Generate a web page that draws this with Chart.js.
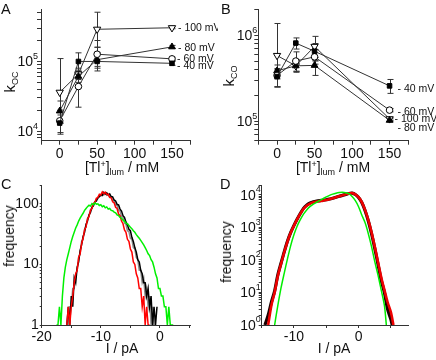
<!DOCTYPE html>
<html>
<head>
<meta charset="utf-8">
<script src="https://cdn.jsdelivr.net/npm/chart.js@4.4.1/dist/chart.umd.min.js"></script>
<style>
  html, body { margin: 0; padding: 0; background: #fff; }
  #fig { position: relative; width: 436px; height: 360px; overflow: hidden;
         font-family: "Liberation Sans", Arial, sans-serif; color: #111; }
  #fig canvas { position: absolute; }
  .t { position: absolute; white-space: nowrap; font-size: 14px; line-height: 1; }
  .t sub, .t sup { font-size: 9px; vertical-align: 0; position: relative; }
  .t sup { top: -0.55em; }
  .t sub { top: 0.35em; }
  .c { transform: translate(-50%, -50%); }
  .r { transform: translate(-50%, -50%) rotate(-90deg); }
  .lt { position: absolute; font-size: 14.5px; line-height: 1; }
</style>
</head>
<body>
<div id="fig">
  <canvas id="cA" width="218" height="160" style="left:0;top:0"></canvas>
  <canvas id="cB" width="218" height="160" style="left:218px;top:0"></canvas>
  <canvas id="cC" width="218" height="170" style="left:0;top:175px"></canvas>
  <canvas id="cD" width="218" height="170" style="left:218px;top:175px"></canvas>

  <div class="lt" style="left:1px;top:2px">A</div>
  <div class="lt" style="left:221px;top:2px">B</div>
  <div class="lt" style="left:1px;top:177px">C</div>
  <div class="lt" style="left:220px;top:177px">D</div>

  <div class="t r" style="left:9px;top:82px;font-size:15px">k<sub>OC</sub></div>
  <div class="t r" style="left:228px;top:76px;font-size:15px">k<sub>CO</sub></div>
  <div class="t c" style="left:122px;top:167px">[Tl<sup>+</sup>]<sub>lum</sub> / mM</div>
  <div class="t c" style="left:333px;top:167px">[Tl<sup>+</sup>]<sub>lum</sub> / mM</div>
  <div class="t r" style="left:9px;top:236px">frequency</div>
  <div class="t r" style="left:226px;top:252px">frequency</div>
  <div class="t c" style="left:122px;top:348px">I / pA</div>
  <div class="t c" style="left:334px;top:348px">I / pA</div>
</div>

<script>
// ---- data: panels A and B (rate constants vs luminal Tl+) ----
const tlConc = [0, 25, 50, 150];

const aMinus40  = [13000, 100000, 100000, 94000];
const aMinus60  = [14000, 43600, 127000, 109000];
const aMinus80  = [19400, 61000, 106000, 162000];
const aMinus100 = [36000, 66000, 290000, 305000];
const aLo40  = [9000, 72000, 73000, 88000],   aHi40  = [17000, 133000, 135000, 100000];
const aLo60  = [9500, 22000, 80000, 103000],  aHi60  = [20000, 65000, 200000, 115000];
const aLo80  = [13000, 50000, 85000, 155000], aHi80  = [27000, 75000, 160000, 170000];
const aLo100 = [13000, 55000, 160000, 295000], aHi100 = [110000, 80000, 510000, 315000];

const bMinus40  = [330000, 810000, 650000, 257000];
const bMinus60  = [340000, 500000, 560000, 134000];
const bMinus80  = [385000, 440000, 445000, 102000];
const bMinus100 = [580000, 440000, 740000, 106000];
const bLo40  = [250000, 690000, 500000, 210000], bHi40  = [400000, 930000, 800000, 305000];
const bLo60  = [250000, 380000, 460000, 128000], bHi60  = [410000, 640000, 680000, 140000];
const bLo80  = [310000, 380000, 340000, 98000],  bHi80  = [450000, 500000, 510000, 106000];
const bLo100 = [250000, 370000, 550000, 101000], bHi100 = [1370000, 520000, 970000, 111000];

const seriesNames = ['- 40 mV', '- 60 mV', '- 80 mV', '- 100 mV'];
const concTicks = [0, 50, 100, 150];

// ---- data: panel C (histograms, 0.25 pA bins) ----
const cBin = 0.25;
const cGreenStart = -17.5;
const cGreen = [1, 1, 2, 1, 3, 6, 9, 12,
  15, 19, 24, 29, 34, 40, 45, 52,
  58, 64, 70, 78, 84, 90, 95, 92,
  101, 97, 104, 99, 100, 94, 97, 90,
  93, 86, 89, 82, 84, 78, 77, 73,
  71, 66, 64, 60, 58, 54, 52, 48,
  47, 44, 41, 39, 36, 34, 31, 29,
  27, 25, 23, 21, 19, 17, 15, 14,
  12, 11, 9, 7, 6, 4, 4, 3,
  3, 2, 2, 1, 2, 1, 1, 1];
const cRedStart = -15.75;
const cRed = [1, 2, 1, 2, 3, 5, 7, 8,
  13, 15, 22, 27, 37, 42, 56, 62,
  78, 84, 102, 106, 124, 128, 144, 140,
  158, 148, 156, 142, 145, 128, 126, 108,
  104, 88, 84, 68, 64, 52, 47, 37,
  34, 26, 24, 18, 16, 11, 10, 7,
  6, 4, 4, 2, 3, 1, 2, 1,
  1];
const cBlackStart = -15.75;
const cBlack = [1, 2, 1, 3, 2, 6, 5, 9,
  11, 17, 21, 29, 34, 46, 52, 66,
  72, 88, 93, 108, 112, 127, 131, 142,
  138, 155, 146, 152, 140, 146, 132, 130,
  116, 112, 98, 96, 82, 76, 64, 60,
  50, 45, 38, 36, 28, 24, 19, 16,
  12, 11, 8, 7, 5, 5, 3, 4,
  2, 3, 1, 2, 1, 2];
const cGreyStart = -15.5;
const cGrey = [1, 2, 2, 4, 4, 7, 8, 13,
  15, 24, 26, 38, 42, 58, 62, 80,
  84, 100, 104, 120, 122, 136, 134, 146,
  140, 148, 138, 142, 128, 130, 114, 112,
  96, 94, 78, 76, 62, 60, 48, 46,
  36, 35, 27, 26, 19, 18, 13, 12,
  8, 8, 5, 6, 3, 4, 2, 3,
  1, 2, 1];
const cYLabels = [1, 10, 100];
const cXLabels = [-20, -10, 0];

// ---- data: panel D ----
const dBlackX = [-14.5, -14, -13.5, -13, -12.5, -12, -11.5, -11, -10.5, -10, -9.5, -9, -8.5, -8, -7.5, -7,
  -6.5, -6, -5.5, -5, -4.5, -4, -3.5, -3, -2.5, -2, -1.5, -1, -0.5, 0, 0.5, 1, 1.5, 2, 2.5, 3, 3.5, 4, 4.5, 5, 5.2];
const dBlack = [1, 2, 5, 11, 35, 80, 180, 380, 700, 1150, 1800, 2700, 3900, 4900, 5650, 6150,
  6450, 6650, 6800, 7050, 7400, 7850, 8400, 9000, 9600, 10300, 11000, 11200, 10200, 8300, 5800, 3300, 1600, 650, 230, 75, 24, 10, 3, 1.5, 1];
const dRedX = [-14, -13.5, -13, -12.5, -12, -11.5, -11, -10.5, -10, -9.5, -9, -8.5, -8, -7.5, -7,
  -6.5, -6, -5.5, -5, -4.5, -4, -3.5, -3, -2.5, -2, -1.5, -1, -0.5, 0, 0.5, 1, 1.5, 2, 2.5, 3, 3.5, 4, 4.5, 5, 5.4];
const dRed = [1, 4, 10, 32, 76, 175, 370, 690, 1130, 1780, 2680, 3780, 4680, 5380, 5880,
  6180, 6380, 6580, 6880, 7280, 7780, 8380, 8980, 9600, 10300, 11000, 11250, 10300, 8450, 5950, 3450, 1700, 720, 260, 88, 30, 12, 5, 2.5, 1];
const dGreenX = [-13, -12.5, -12, -11.5, -11, -10.5, -10, -9.5, -9, -8.5, -8, -7.5, -7, -6.5, -6,
  -5.5, -5, -4.5, -4, -3.5, -3, -2.5, -2, -1.5, -1, -0.5, 0, 0.5, 1, 1.5, 2, 2.5, 3, 3.5, 4, 4.3];
const dGreen = [1, 4, 14, 40, 110, 280, 600, 1100, 1750, 2600, 3500, 4400, 5200, 5900, 6700,
  7600, 8600, 9600, 10500, 11200, 11700, 11900, 11600, 10800, 8800, 6600, 4300, 2400, 1400, 650, 260, 90, 35, 12, 4, 1];
const dXLabels = [-10, 0];

// ---- helpers ----
const FONT = '"Liberation Sans", Arial, sans-serif';
Chart.defaults.font.family = FONT;
Chart.defaults.color = '#111';
const AX = '#333';

const pts = (xs, ys) => xs.map((x, i) => ({ x, y: ys[i] }));
const bins = (start, ys) => ys.map((y, i) => ({ x: start + i * cBin, y }));
const fitW = w => s => { s.width = w; };
const fitH = h => s => { s.height = h; };
// keep only 1..9 x 10^n on log axes
const wholeDecades = s => {
  s.ticks = s.ticks.filter(t => {
    const e = Math.floor(Math.log10(t.value) + 1e-9);
    const m = t.value / Math.pow(10, e);
    return Math.abs(m - Math.round(m)) < 1e-6;
  });
};

const errorBars = {
  id: 'errorBars',
  beforeDatasetsDraw(chart) {
    const { ctx, scales: { x, y } } = chart;
    ctx.save();
    ctx.strokeStyle = AX; ctx.lineWidth = 1;
    chart.data.datasets.forEach(ds => {
      if (!ds.errLo) return;
      ds.data.forEach((p, i) => {
        const px = Math.round(x.getPixelForValue(p.x)) + 0.5;
        const t = y.getPixelForValue(ds.errHi[i]), b = y.getPixelForValue(ds.errLo[i]);
        ctx.beginPath();
        ctx.moveTo(px, t); ctx.lineTo(px, b);
        ctx.moveTo(px - 3, t); ctx.lineTo(px + 3, t);
        ctx.moveTo(px - 3, b); ctx.lineTo(px + 3, b);
        ctx.stroke();
      });
    });
    ctx.restore();
  }
};

const seriesTags = {
  id: 'seriesTags',
  afterDatasetsDraw(chart, args, opts) {
    if (!opts.dx) return;
    const ctx = chart.ctx;
    ctx.save();
    ctx.font = '10.5px ' + FONT; ctx.fillStyle = '#111';
    ctx.textBaseline = 'middle'; ctx.textAlign = 'left';
    chart.data.datasets.forEach((ds, i) => {
      const els = chart.getDatasetMeta(i).data, p = els[els.length - 1];
      ctx.fillText(ds.label, p.x + opts.dx[i], p.y + opts.dy[i]);
    });
    ctx.restore();
  }
};

// "10" with superscript exponent at each decade of the y axis
const powLabels = {
  id: 'powLabels',
  afterDraw(chart, args, opts) {
    if (!opts.gap) return;
    const s = chart.scales.y, ctx = chart.ctx;
    ctx.save(); ctx.fillStyle = '#111'; ctx.textBaseline = 'middle';
    s.ticks.forEach(t => {
      const e = Math.log10(t.value);
      if (Math.abs(e - Math.round(e)) > 1e-9) return;
      const py = s.getPixelForValue(t.value), xr = s.right - opts.gap;
      ctx.font = '14px ' + FONT; ctx.textAlign = 'right';
      ctx.fillText('10', xr, py + 1);
      ctx.font = '9px ' + FONT; ctx.textAlign = 'left';
      ctx.fillText(String(Math.round(e)), xr, py - 5);
    });
    ctx.restore();
  }
};

function xAxis(min, max, step, labels, h, tl) {
  return {
    type: 'linear', min, max, afterFit: fitH(h),
    ticks: { stepSize: step, includeBounds: false, autoSkip: false, maxRotation: 0, padding: 1,
             font: { size: 14 }, color: '#111',
             callback: v => labels.includes(v) ? String(v) : '' },
    grid: { drawOnChartArea: false, tickLength: tl, color: AX },
    border: { color: AX }
  };
}
function yLog(min, max, w, labels, tl) {
  return {
    type: 'logarithmic', min, max, afterFit: fitW(w), afterBuildTicks: wholeDecades,
    ticks: { autoSkip: false, padding: 1, font: { size: 14 }, color: '#111',
             callback: v => (labels && labels.includes(v)) ? String(v) : '' },
    grid: { drawOnChartArea: false, tickLength: tl, color: AX },
    border: { color: AX }
  };
}

function rateSets(vals, lo, hi) {
  const style = [
    { pointStyle: 'rect', radius: 3.2, fill: '#000', rot: 0 },
    { pointStyle: 'circle', radius: 3.3, fill: '#fff', rot: 0 },
    { pointStyle: 'triangle', radius: 3.9, fill: '#000', rot: 0 },
    { pointStyle: 'triangle', radius: 4.2, fill: '#fff', rot: 180 }
  ];
  return vals.map((v, i) => ({
    label: seriesNames[i],
    data: pts(tlConc, v), errLo: lo[i], errHi: hi[i],
    borderColor: AX, borderWidth: 1, tension: 0,
    pointStyle: style[i].pointStyle, pointRadius: style[i].radius, pointRotation: style[i].rot,
    pointBackgroundColor: style[i].fill, pointBorderColor: '#000', pointBorderWidth: 1
  }));
}

function baseOpts(padding, scales, plugins) {
  return {
    responsive: false, animation: false, events: [],
    layout: { padding },
    scales,
    plugins: Object.assign({ legend: { display: false }, tooltip: { enabled: false } }, plugins)
  };
}

// ---- panel A ----
new Chart(document.getElementById('cA'), {
  type: 'line',
  data: { datasets: rateSets([aMinus40, aMinus60, aMinus80, aMinus100],
                             [aLo40, aLo60, aLo80, aLo100], [aHi40, aHi60, aHi80, aHi100]) },
  options: baseOpts({ top: 2, right: 27.3, left: 0, bottom: 0 }, {
    x: xAxis(-25, 175, 25, concTicks, 19.3, 4),
    y: yLog(7260, 5.6e5, 41, null, 4)
  }, { seriesTags: { dx: [5, 5, 6, 6], dy: [3, 0, 1, 0] }, powLabels: { gap: 8 } }),
  plugins: [errorBars, seriesTags, powLabels]
});

// ---- panel B ----
new Chart(document.getElementById('cB'), {
  type: 'line',
  data: { datasets: rateSets([bMinus40, bMinus60, bMinus80, bMinus100],
                             [bLo40, bLo60, bLo80, bLo100], [bHi40, bHi60, bHi80, bHi100]) },
  options: baseOpts({ top: 2, right: 27.7, left: 0, bottom: 0 }, {
    x: xAxis(-25, 175, 25, concTicks, 19.3, 4),
    y: yLog(5.9e4, 2e6, 40.3, null, 4)
  }, { seriesTags: { dx: [8, 8, 8, 5], dy: [3, 2, 8, 0] }, powLabels: { gap: 6 } }),
  plugins: [errorBars, seriesTags, powLabels]
});

// ---- panel C ----
new Chart(document.getElementById('cC'), {
  type: 'line',
  data: { datasets: [
    { data: bins(cGreenStart, cGreen), borderColor: '#00f000', borderWidth: 1.5 },
    { data: bins(cRedStart, cRed), borderColor: '#ff0000', borderWidth: 1.5 },
    { data: bins(cBlackStart, cBlack), borderColor: '#000000', borderWidth: 1.5 },
    { data: bins(cGreyStart, cGrey), borderColor: '#8c8c8c', borderWidth: 1.5 }
  ].map(d => Object.assign(d, { pointRadius: 0, tension: 0 })) },
  options: baseOpts({ top: 10, right: 27.3, left: 0, bottom: 0 }, {
    x: xAxis(-20, 5.2, 5, cXLabels, 20, 3),
    y: yLog(1, 205, 41.7, cYLabels, 2)
  }, {}),
  plugins: []
});

// ---- panel D ----
new Chart(document.getElementById('cD'), {
  type: 'line',
  data: { datasets: [
    { data: pts(dGreenX, dGreen), borderColor: '#00ee00', borderWidth: 1.5 },
    { data: pts(dRedX, dRed), borderColor: '#ee0000', borderWidth: 2.6 },
    { data: pts(dBlackX, dBlack), borderColor: '#1a0000', borderWidth: 3.2 }
  ].map(d => Object.assign(d, { pointRadius: 0, tension: 0.3 })) },
  options: baseOpts({ top: 10, right: 27.7, left: 0, bottom: 0 }, {
    x: xAxis(-15, 7.7, 5, dXLabels, 20, 3),
    y: yLog(1, 2e4, 43.7, null, 3)
  }, { powLabels: { gap: 6 } }),
  plugins: [powLabels]
});
</script>
</body>
</html>
